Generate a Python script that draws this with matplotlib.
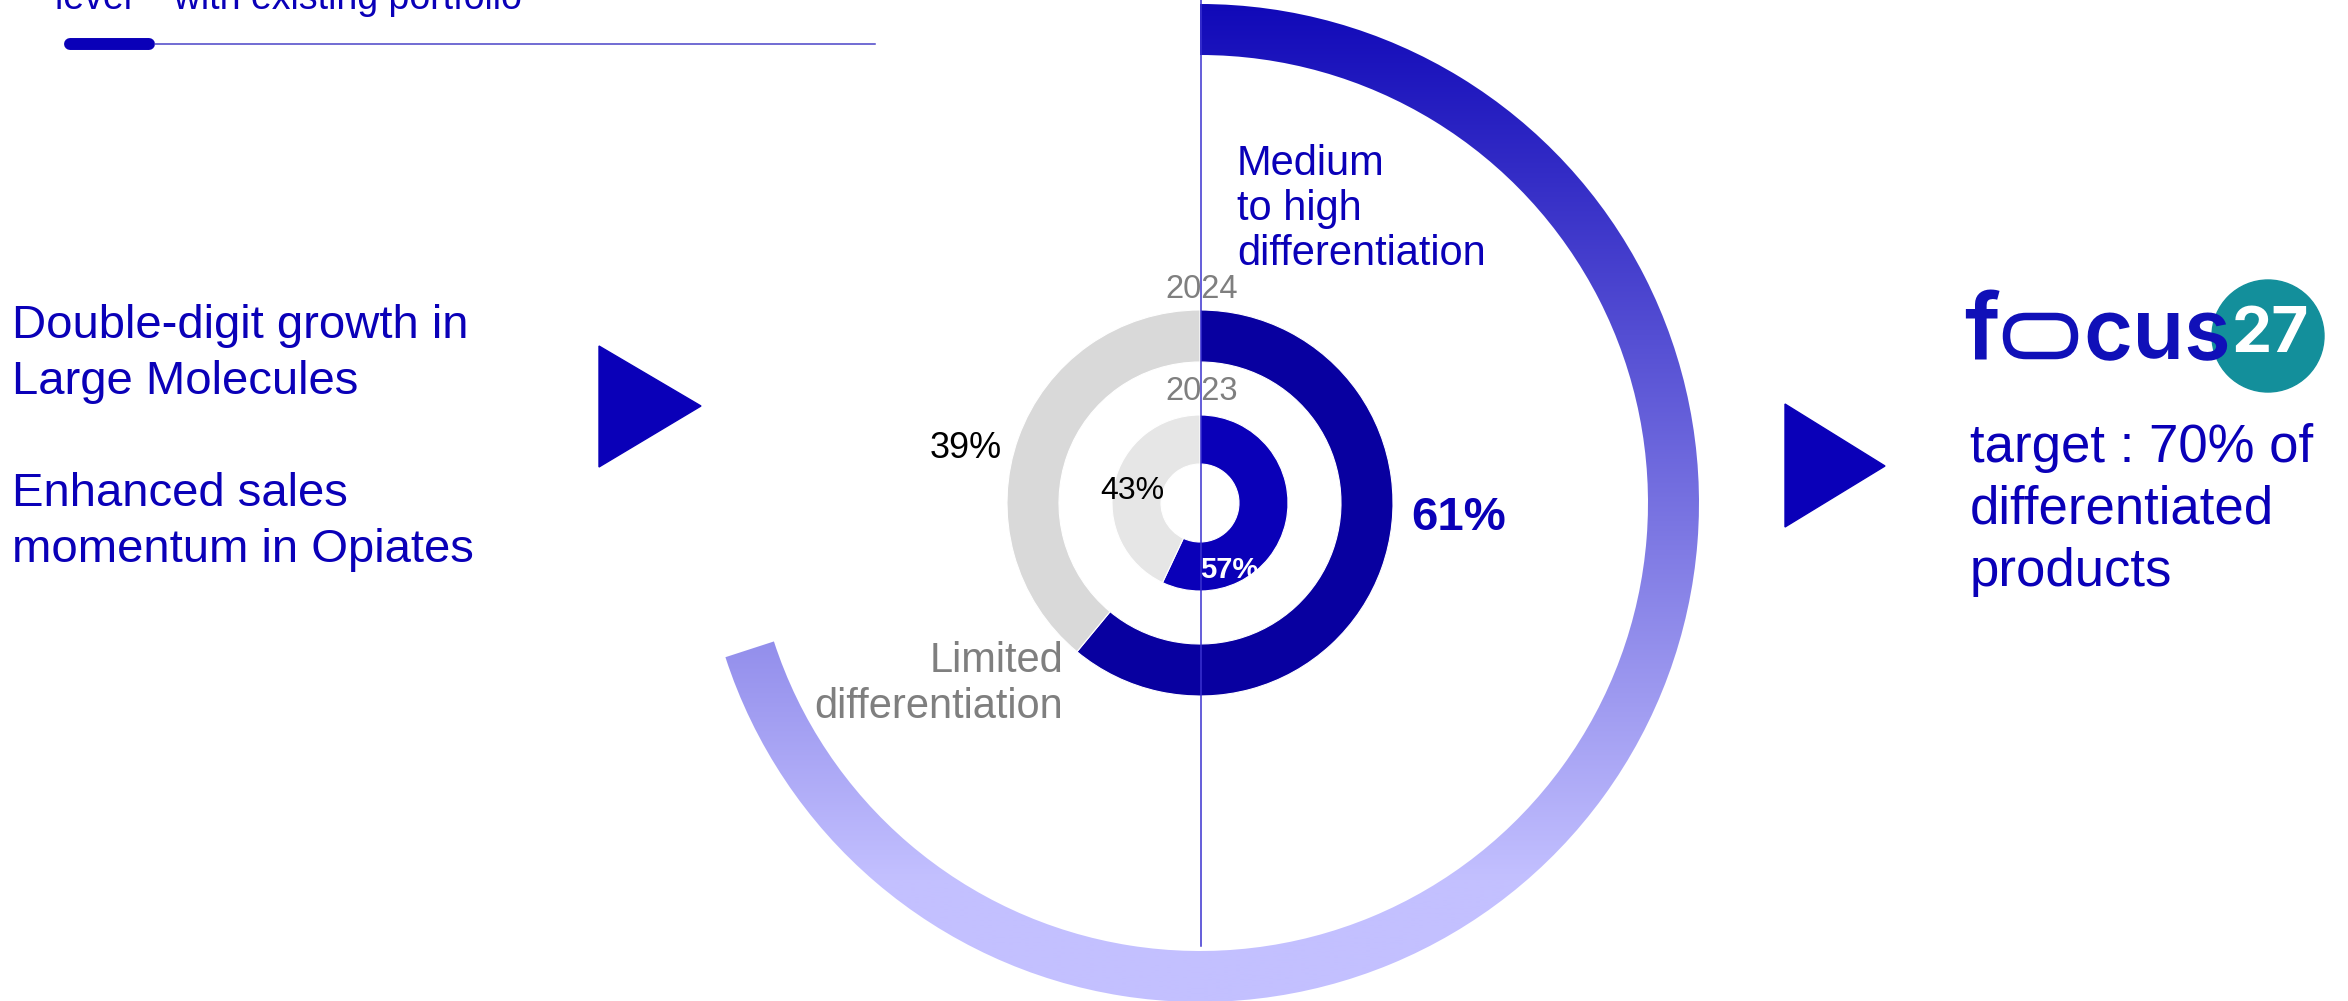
import matplotlib
matplotlib.use('Agg')
import numpy as np
import matplotlib.pyplot as plt
from matplotlib.patches import Wedge, Circle, FancyBboxPatch, Polygon
from matplotlib.colors import to_rgb

# data
years = ['2023', '2024']
high_share = [57, 61]        # medium to high differentiation
limited_share = [43, 39]     # limited differentiation
target_share = 70            # focus27 target

W, H = 2348, 1001
BLUE = '#0a00b8'
DARK = '#0800a0'
GREY = '#7f7f7f'
plt.rcParams['font.family'] = ['Liberation Sans', 'DejaVu Sans']

fig = plt.figure(figsize=(W / 100, H / 100), dpi=100)
ax = fig.add_axes([0, 0, 1, 1])

def Y(py):
    return H - py

cx, cy = 1200, Y(503)

# big target arc with vertical gradient
t1 = 90 + 360 - target_share / 100 * 360
arc = Wedge((cx, cy), 499, t1, 450, width=51, facecolor='none', edgecolor='none')
ax.add_patch(arc)
c0, c1 = np.array(to_rgb('#1008b8')), np.array(to_rgb('#c3c0ff'))
ys = np.linspace(0, 1, 400)[:, None]
frac = np.clip(ys * H / 880, 0, 1)
grad = (c0 + (c1 - c0) * frac)[:, None, :]
im = ax.imshow(grad, extent=(cx - 520, cx + 520, 0, H), origin='upper',
               aspect='auto', interpolation='bilinear', zorder=1)
im.set_clip_path(arc)

# rings
ring_geom = {'2023': (88, 49), '2024': (193, 52)}
ring_cols = {'2023': (BLUE, '#e6e6e6'), '2024': (DARK, '#d9d9d9')}
for yr, hi, lo in zip(years, high_share, limited_share):
    r, w = ring_geom[yr]
    wedges, _ = ax.pie([hi, lo], radius=r, center=(cx, cy), startangle=90,
                       counterclock=False, colors=ring_cols[yr],
                       wedgeprops=dict(width=w, edgecolor='white', linewidth=0.8))
    for wd in wedges:
        wd.set_zorder(2)

ax.plot([1201, 1201], [Y(0), Y(946)], color='#3a32d0', lw=1.1, zorder=3)

# ring labels
ax.text(1202, Y(290), years[1], color=GREY, fontsize=23.5, ha='center', va='center', zorder=4)
ax.text(1202, Y(392), years[0], color=GREY, fontsize=23.5, ha='center', va='center', zorder=4)
ax.text(966, Y(449), f'{limited_share[1]}%', color='black', fontsize=26, ha='center', va='center')
ax.text(1132, Y(491), f'{limited_share[0]}%', color='black', fontsize=23, ha='center', va='center', zorder=4)
ax.text(1229, Y(570), f'{high_share[0]}%', color='white', fontsize=21, fontweight='bold',
        ha='center', va='center', zorder=4)
ax.text(1459, Y(518), f'{high_share[1]}%', color=BLUE, fontsize=34, fontweight='bold',
        ha='center', va='center')
ax.text(1237, Y(209), 'Medium\nto high\ndifferentiation', color=BLUE, fontsize=30,
        ha='left', va='center', linespacing=1.17, multialignment='left')
ax.text(1063, Y(684), 'Limited\ndifferentiation', color=GREY, fontsize=30,
        ha='right', va='center', linespacing=1.17, multialignment='right')

# left text and header
ax.text(12, Y(438), 'Double-digit growth in\nLarge Molecules\n\nEnhanced sales\nmomentum in Opiates',
        color=BLUE, fontsize=34, ha='left', va='center', linespacing=1.36)
ax.text(55, Y(9), 'level \u2013 with existing portfolio', color=BLUE, fontsize=27,
        ha='left', va='baseline')
ax.plot([70, 149], [Y(44), Y(44)], color=BLUE, lw=8.6, solid_capstyle='round')
ax.plot([155, 875], [Y(44), Y(44)], color='#4a44c8', lw=1.1)

# arrows
ax.add_patch(Polygon([(599, Y(346)), (599, Y(467)), (701, Y(406))], color=BLUE))
ax.add_patch(Polygon([(1785, Y(404)), (1785, Y(527)), (1885, Y(466))], color=BLUE))

# focus27 logo
LOGO = '#1010b8'
ax.add_patch(Circle((2268, Y(336)), 56, color='#138f9b', zorder=2))
ax.text(1964, Y(359), 'f', color=LOGO, fontsize=66, fontfamily='Inter', fontweight='semibold',
        ha='left', va='baseline', zorder=3)
ax.add_patch(FancyBboxPatch((2006.5, Y(355.5)), 68, 39, boxstyle='round,pad=0,rounding_size=19.5',
                            facecolor='none', edgecolor=LOGO, lw=5.4, zorder=3))
ax.text(2083, Y(359), 'cus', color=LOGO, fontsize=61, fontfamily='Inter', fontweight='semibold',
        ha='left', va='baseline', zorder=3)
ax.text(2270, Y(336), '27', color='white', fontsize=46, fontfamily='Inter', fontweight='bold',
        ha='center', va='center', zorder=4)
ax.text(1970, Y(510), 'target : 70% of\ndifferentiated\nproducts', color=BLUE, fontsize=38,
        ha='left', va='center', linespacing=1.32)

ax.set_xlim(0, W)
ax.set_ylim(0, H)
ax.set_aspect('equal')
ax.axis('off')
fig.savefig('out.png', dpi=100)
